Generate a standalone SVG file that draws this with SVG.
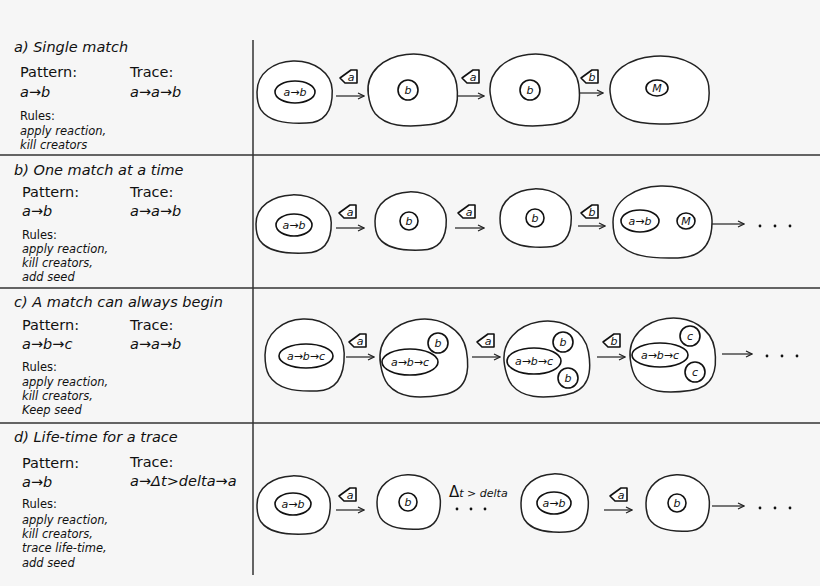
<svg xmlns="http://www.w3.org/2000/svg" xmlns:xlink="http://www.w3.org/1999/xlink" width="820" height="586" viewBox="0 0 820 586">
<style>
text{font-family:"DejaVu Sans","Liberation Sans",sans-serif;fill:#111}
.t{font-size:14.5px;font-style:italic}
.h{font-size:14.5px}
.s{font-size:11.5px;font-style:italic}
.r{font-size:11.5px}
.in{font-size:11px;font-style:italic;text-anchor:middle}
.cell{fill:#fff;stroke:#222;stroke-width:1.5}
.o{fill:#fff;stroke:#111;stroke-width:1.6}
.ln{stroke:#333;stroke-width:1.5}
.ar{stroke:#222;stroke-width:1.2;fill:none}
</style>
<defs>
<path id="blob" vector-effect="non-scaling-stroke" d="M-1,0 C-1,-0.6 -0.55,-0.95 -0.05,-0.97 C0.5,-0.99 0.97,-0.6 0.98,-0.05 C0.99,0.5 0.85,0.95 0.3,0.97 C-0.3,1 -0.7,0.9 -0.9,0.55 C-0.98,0.4 -1,0.2 -1,0 Z"/>
<marker id="ah" markerWidth="8" markerHeight="8" refX="7" refY="4" orient="auto" markerUnits="userSpaceOnUse"><path d="M1,1 L7,4 L1,7" fill="none" stroke="#222" stroke-width="1.2"/></marker>
<g id="tok"><path d="M-9,1 L2,-7 L8,-7 L8,6 L-4,6 Z" fill="#fff" stroke="#111" stroke-width="1.6" stroke-linejoin="round"/></g>
</defs>
<rect width="820" height="586" fill="#f6f6f6"/>
<g id="frame">
<line class="ln" x1="253" y1="40" x2="253" y2="575"/>
<line class="ln" x1="0" y1="155" x2="820" y2="155"/>
<line class="ln" x1="0" y1="288" x2="820" y2="288"/>
<line class="ln" x1="0" y1="423" x2="820" y2="423"/>
</g>
<g id="labels">
<text class="t" x="14" y="52">a) Single match</text>
<text class="h" x="20" y="77">Pattern:</text><text class="h" x="130" y="77">Trace:</text>
<text class="t" x="20" y="97">a→b</text><text class="t" x="130" y="97">a→a→b</text>
<text class="r" x="20" y="120">Rules:</text>
<text class="s" x="20" y="135">apply reaction,</text>
<text class="s" x="20" y="149">kill creators</text>

<text class="t" x="14" y="175">b) One match at a time</text>
<text class="h" x="22" y="197">Pattern:</text><text class="h" x="130" y="197">Trace:</text>
<text class="t" x="22" y="216">a→b</text><text class="t" x="130" y="216">a→a→b</text>
<text class="r" x="22" y="239">Rules:</text>
<text class="s" x="22" y="253">apply reaction,</text>
<text class="s" x="22" y="267">kill creators,</text>
<text class="s" x="22" y="281">add seed</text>

<text class="t" x="14" y="307">c) A match can always begin</text>
<text class="h" x="22" y="330">Pattern:</text><text class="h" x="130" y="330">Trace:</text>
<text class="t" x="22" y="349">a→b→c</text><text class="t" x="130" y="349">a→a→b</text>
<text class="r" x="22" y="371">Rules:</text>
<text class="s" x="22" y="386">apply reaction,</text>
<text class="s" x="22" y="400">kill creators,</text>
<text class="s" x="22" y="414">Keep seed</text>

<text class="t" x="14" y="442">d) Life-time for a trace</text>
<text class="h" x="22" y="468">Pattern:</text><text class="h" x="130" y="467">Trace:</text>
<text class="t" x="22" y="487">a→b</text><text class="t" x="130" y="486">a→Δt&gt;delta→a</text>
<text class="r" x="22" y="508">Rules:</text>
<text class="s" x="22" y="524">apply reaction,</text>
<text class="s" x="22" y="538">kill creators,</text>
<text class="s" x="22" y="552">trace life-time,</text>
<text class="s" x="22" y="567">add seed</text>
</g>

<g id="connectors">
<line class="ar" x1="336" y1="96" x2="364" y2="96" marker-end="url(#ah)"/>
<line class="ar" x1="457" y1="96" x2="484" y2="96" marker-end="url(#ah)"/>
<line class="ar" x1="577" y1="93" x2="603" y2="93" marker-end="url(#ah)"/>
<line class="ar" x1="336" y1="228" x2="364" y2="228" marker-end="url(#ah)"/>
<line class="ar" x1="455" y1="228" x2="484" y2="228" marker-end="url(#ah)"/>
<line class="ar" x1="578" y1="226" x2="605" y2="226" marker-end="url(#ah)"/>
<line class="ar" x1="712" y1="224" x2="744" y2="224" marker-end="url(#ah)"/>
<line class="ar" x1="346" y1="357" x2="374" y2="357" marker-end="url(#ah)"/>
<line class="ar" x1="472" y1="357" x2="500" y2="357" marker-end="url(#ah)"/>
<line class="ar" x1="597" y1="357" x2="625" y2="357" marker-end="url(#ah)"/>
<line class="ar" x1="722" y1="354" x2="752" y2="354" marker-end="url(#ah)"/>
<line class="ar" x1="336" y1="510" x2="364" y2="510" marker-end="url(#ah)"/>
<line class="ar" x1="604" y1="510" x2="632" y2="510" marker-end="url(#ah)"/>
<line class="ar" x1="712" y1="506" x2="744" y2="506" marker-end="url(#ah)"/>
<g fill="#111">
<circle cx="760" cy="226" r="1.4"/><circle cx="775" cy="226" r="1.4"/><circle cx="790" cy="226" r="1.4"/>
<circle cx="767" cy="356" r="1.4"/><circle cx="782" cy="356" r="1.4"/><circle cx="797" cy="356" r="1.4"/>
<circle cx="760" cy="508" r="1.4"/><circle cx="775" cy="508" r="1.4"/><circle cx="790" cy="508" r="1.4"/>
<circle cx="457" cy="509" r="1.4"/><circle cx="471" cy="509" r="1.4"/><circle cx="485" cy="509" r="1.4"/>
</g>
<text x="449" y="497" font-size="15">Δ<tspan font-size="11" font-style="italic">t &gt; delta</tspan></text>
</g>

<g id="tokens">
<g transform="translate(349,77)"><use xlink:href="#tok"/><text class="in" x="2" y="4">a</text></g>
<g transform="translate(471,77)"><use xlink:href="#tok"/><text class="in" x="2" y="4">a</text></g>
<g transform="translate(590,77)"><use xlink:href="#tok"/><text class="in" x="2" y="4">b</text></g>
<g transform="translate(348,212)"><use xlink:href="#tok"/><text class="in" x="2" y="4">a</text></g>
<g transform="translate(467,212)"><use xlink:href="#tok"/><text class="in" x="2" y="4">a</text></g>
<g transform="translate(590,212)"><use xlink:href="#tok"/><text class="in" x="2" y="4">b</text></g>
<g transform="translate(358,341)"><use xlink:href="#tok"/><text class="in" x="2" y="4">a</text></g>
<g transform="translate(486,341)"><use xlink:href="#tok"/><text class="in" x="2" y="4">a</text></g>
<g transform="translate(612,341)"><use xlink:href="#tok"/><text class="in" x="2" y="4">b</text></g>
<g transform="translate(348,495)"><use xlink:href="#tok"/><text class="in" x="2" y="4">a</text></g>
<g transform="translate(619,495)"><use xlink:href="#tok"/><text class="in" x="2" y="4">a</text></g>
</g>

<g id="cellA1"><use xlink:href="#blob" class="cell" transform="translate(295,92) scale(38,32)"/><ellipse class="o" cx="295" cy="92" rx="20" ry="11"/><text class="in" x="295" y="96">a→b</text></g>
<g id="cellA2"><use xlink:href="#blob" class="cell" transform="translate(413,90) scale(45,37) rotate(-6)"/><circle class="o" cx="408" cy="90" r="10"/><text class="in" x="408" y="94">b</text></g>
<g id="cellA3"><use xlink:href="#blob" class="cell" transform="translate(535,90) scale(45,37) rotate(-6)"/><circle class="o" cx="530" cy="90" r="10"/><text class="in" x="530" y="94">b</text></g>
<g id="cellA4"><use xlink:href="#blob" class="cell" transform="translate(660,90) scale(50,35) rotate(-4)"/><ellipse class="o" cx="657" cy="88" rx="11" ry="8"/><text class="in" x="657" y="92">M</text></g>

<g id="cellB1"><use xlink:href="#blob" class="cell" transform="translate(294,224) scale(38,30)"/><ellipse class="o" cx="294" cy="225" rx="18" ry="11"/><text class="in" x="294" y="229">a→b</text></g>
<g id="cellB2"><use xlink:href="#blob" class="cell" transform="translate(411,221) scale(36,30)"/><circle class="o" cx="409" cy="221" r="9"/><text class="in" x="409" y="225">b</text></g>
<g id="cellB3"><use xlink:href="#blob" class="cell" transform="translate(536,218) scale(36,30)"/><circle class="o" cx="535" cy="218" r="9"/><text class="in" x="535" y="222">b</text></g>
<g id="cellB4"><use xlink:href="#blob" class="cell" transform="translate(663,222) scale(50,37)"/><ellipse class="o" cx="640" cy="221" rx="19" ry="11"/><text class="in" x="640" y="225">a→b</text><ellipse class="o" cx="686" cy="221" rx="9" ry="8"/><text class="in" x="686" y="225">M</text></g>

<g id="cellC1"><use xlink:href="#blob" class="cell" transform="translate(305,355) scale(40,37)"/><ellipse class="o" cx="306" cy="356" rx="27" ry="12"/><text class="in" x="306" y="360">a→b→c</text></g>
<g id="cellC2"><use xlink:href="#blob" class="cell" transform="translate(424,358) scale(44,40) rotate(-8)"/><ellipse class="o" cx="410" cy="362" rx="28" ry="13"/><text class="in" x="410" y="366">a→b→c</text><circle class="o" cx="438" cy="343" r="10"/><text class="in" x="438" y="347">b</text></g>
<g id="cellC3"><use xlink:href="#blob" class="cell" transform="translate(547,359) scale(43,39) rotate(-8)"/><ellipse class="o" cx="534" cy="361" rx="27" ry="13"/><text class="in" x="534" y="365">a→b→c</text><circle class="o" cx="563" cy="342" r="10"/><text class="in" x="563" y="346">b</text><circle class="o" cx="568" cy="378" r="10"/><text class="in" x="568" y="382">b</text></g>
<g id="cellC4"><use xlink:href="#blob" class="cell" transform="translate(673,355) scale(43,38) rotate(-6)"/><ellipse class="o" cx="660" cy="355" rx="28" ry="12"/><text class="in" x="660" y="359">a→b→c</text><circle class="o" cx="690" cy="336" r="10"/><text class="in" x="690" y="340">c</text><circle class="o" cx="695" cy="372" r="10"/><text class="in" x="695" y="376">c</text></g>

<g id="cellD1"><use xlink:href="#blob" class="cell" transform="translate(294,505) scale(37,30)"/><ellipse class="o" cx="293" cy="504" rx="18" ry="11"/><text class="in" x="293" y="508">a→b</text></g>
<g id="cellD2"><use xlink:href="#blob" class="cell" transform="translate(409,502) scale(32,28)"/><circle class="o" cx="408" cy="502" r="9"/><text class="in" x="408" y="506">b</text></g>
<g id="cellD3"><use xlink:href="#blob" class="cell" transform="translate(555,503) scale(34,30)"/><ellipse class="o" cx="554" cy="503" rx="17" ry="11"/><text class="in" x="554" y="507">a→b</text></g>
<g id="cellD4"><use xlink:href="#blob" class="cell" transform="translate(678,503) scale(32,29)"/><circle class="o" cx="677" cy="503" r="9"/><text class="in" x="677" y="507">b</text></g>
</svg>
